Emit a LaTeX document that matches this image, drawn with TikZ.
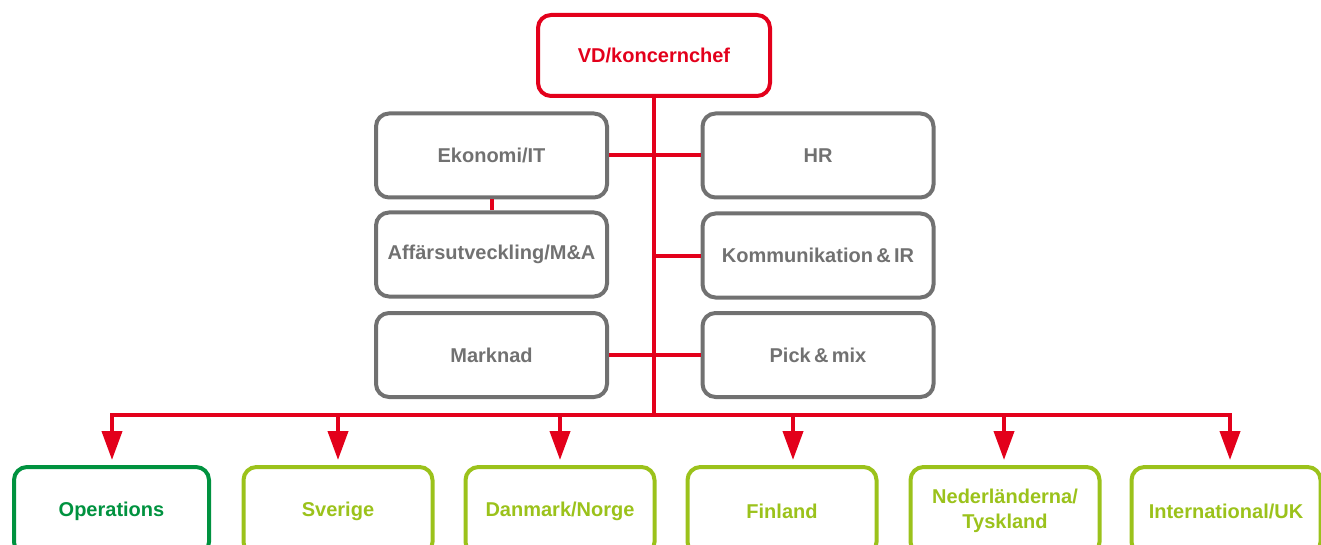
\documentclass[tikz,border=0pt]{standalone}
\usepackage{fontspec}
\setmainfont{Liberation Sans}
\usetikzlibrary{arrows.meta}
\definecolor{vdred}{HTML}{E3001B}
\definecolor{staffgray}{HTML}{717171}
\definecolor{opsgreen}{HTML}{00923F}
\definecolor{marketgreen}{HTML}{9BC21B}

\begin{document}
\begin{tikzpicture}[x=1pt, y=-1pt, line width=4pt,
  box/.style={draw, rounded corners=13pt, inner sep=0pt, align=center,
    font=\bfseries\fontsize{20}{25}\selectfont},
  staff/.style={box, draw=staffgray, text=staffgray, minimum width=231pt, minimum height=84pt},
  market/.style={box, draw=marketgreen, text=marketgreen, minimum width=189pt, minimum height=88pt},
  link/.style={vdred, line cap=butt},
  down/.style={link, -{Triangle[length=29pt,width=20pt]}, shorten >=5pt}]
  \path[use as bounding box, clip] (0,0) rectangle (1321,545);
  % head
  \node[box, draw=vdred, text=vdred, minimum width=232pt, minimum height=81pt]
    (vd) at (654,55.5) {VD/koncernchef};
  % staff functions
  \node[staff] (ekonomi) at (491.5,155.5) {Ekonomi/IT};
  \node[staff] (hr) at (818,155.5) {HR};
  \node[staff] (affars) at (491.5,254.5) {Affärsutveckling/M\&A};
  \node[staff] (komm) at (818,255.5) {Kommunikation\,\&\,IR};
  \node[staff] (marknad) at (491.5,355) {Marknad};
  \node[staff] (pick) at (818,355) {Pick\,\&\,mix};
  % business areas
  \node[box, draw=opsgreen, text=opsgreen, minimum width=195pt, minimum height=88pt]
    (ops) at (111.5,511) {Operations};
  \node[market] (sve) at (338,511) {Sverige};
  \node[market] (dk) at (560,511) {Danmark/Norge};
  \node[market] (fin) at (782,511) {Finland};
  \node[market] (nl) at (1005,511) {Nederländerna/\\Tyskland};
  \node[market] (intl) at (1226,511) {International/UK};
  % trunk and staff lines
  \coordinate (hub) at (654,415);
  \draw[link] (vd.south) -- (hub);
  \draw[link] (ekonomi.east) -- (hr.west);
  \draw[link] (ekonomi.south) -- (affars.north);
  \draw[link] (komm.west) -- (komm.west -| hub);
  \draw[link] (marknad.east) -- (pick.west);
  % bus and arrows
  \foreach \n/\x in {ops/112,sve/338,dk/560,fin/793,nl/1004,intl/1230} {
    \coordinate (bus-\n) at (\x,415);
    \draw[down] (bus-\n) -- (bus-\n |- \n.north);
  }
  \draw[link, line cap=rect] (bus-ops) -- (bus-intl);
\end{tikzpicture}
\end{document}
